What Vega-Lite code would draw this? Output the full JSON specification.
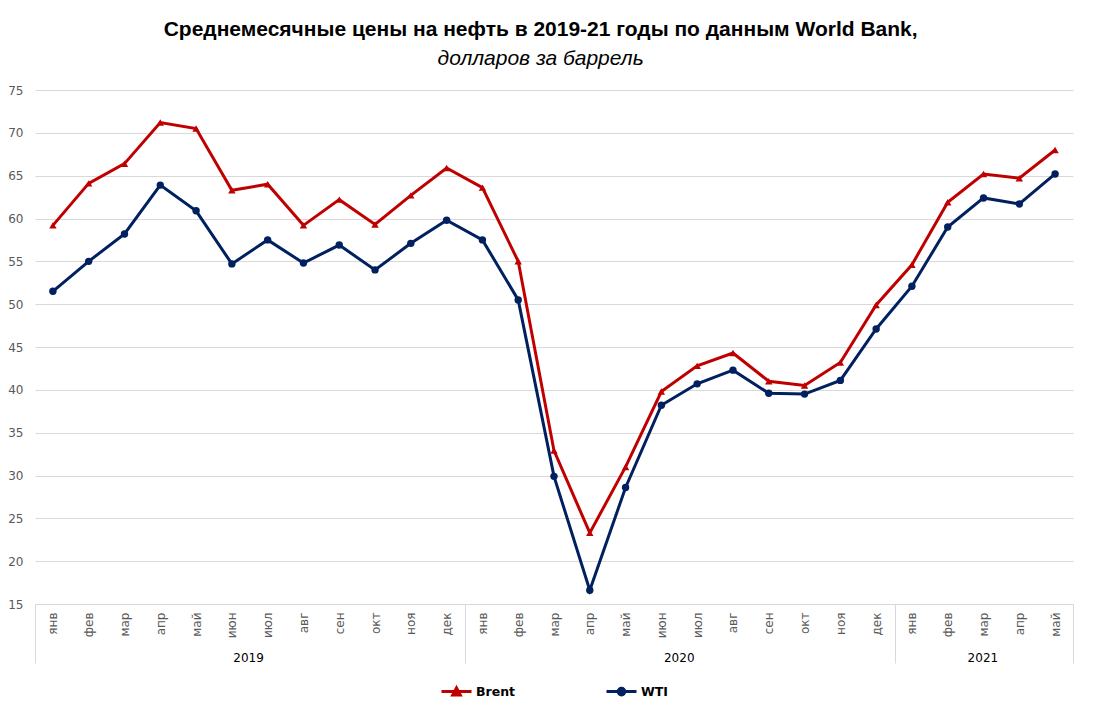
{
  "$schema": "https://vega.github.io/schema/vega-lite/v6.json",
  "width": 1038,
  "height": 514,
  "padding": {"left": 7, "top": 19, "right": 21, "bottom": 5},
  "background": "white",
  "title": {
    "text": "Среднемесячные цены на нефть в 2019-21 годы по данным World Bank,",
    "subtitle": "долларов за баррель",
    "font": "Liberation Sans",
    "fontSize": 21,
    "fontWeight": "bold",
    "color": "black",
    "subtitleFont": "Liberation Sans",
    "subtitleFontSize": 21,
    "subtitleFontStyle": "italic",
    "subtitleColor": "black",
    "subtitlePadding": 8,
    "anchor": "middle",
    "frame": "bounds",
    "offset": 15
  },
  "config": {
    "view": {"stroke": null},
    "axis": {"labelFont": "DejaVu Sans", "labelColor": "#595959", "labelFontSize": 12},
    "legend": {"labelFont": "DejaVu Sans", "layout": {"bottom": {"anchor": "middle"}}}
  },
  "data": {
    "values": [
      {"m": "2019-01", "series": "Brent", "price": 59.2}, {"m": "2019-01", "series": "WTI", "price": 51.5},
      {"m": "2019-02", "series": "Brent", "price": 64.1}, {"m": "2019-02", "series": "WTI", "price": 55.0},
      {"m": "2019-03", "series": "Brent", "price": 66.4}, {"m": "2019-03", "series": "WTI", "price": 58.2},
      {"m": "2019-04", "series": "Brent", "price": 71.2}, {"m": "2019-04", "series": "WTI", "price": 63.9},
      {"m": "2019-05", "series": "Brent", "price": 70.5}, {"m": "2019-05", "series": "WTI", "price": 60.9},
      {"m": "2019-06", "series": "Brent", "price": 63.3}, {"m": "2019-06", "series": "WTI", "price": 54.7},
      {"m": "2019-07", "series": "Brent", "price": 64.0}, {"m": "2019-07", "series": "WTI", "price": 57.5},
      {"m": "2019-08", "series": "Brent", "price": 59.2}, {"m": "2019-08", "series": "WTI", "price": 54.8},
      {"m": "2019-09", "series": "Brent", "price": 62.2}, {"m": "2019-09", "series": "WTI", "price": 56.9},
      {"m": "2019-10", "series": "Brent", "price": 59.3}, {"m": "2019-10", "series": "WTI", "price": 54.0},
      {"m": "2019-11", "series": "Brent", "price": 62.7}, {"m": "2019-11", "series": "WTI", "price": 57.1},
      {"m": "2019-12", "series": "Brent", "price": 65.9}, {"m": "2019-12", "series": "WTI", "price": 59.8},
      {"m": "2020-01", "series": "Brent", "price": 63.6}, {"m": "2020-01", "series": "WTI", "price": 57.5},
      {"m": "2020-02", "series": "Brent", "price": 55.0}, {"m": "2020-02", "series": "WTI", "price": 50.5},
      {"m": "2020-03", "series": "Brent", "price": 32.9}, {"m": "2020-03", "series": "WTI", "price": 29.9},
      {"m": "2020-04", "series": "Brent", "price": 23.3}, {"m": "2020-04", "series": "WTI", "price": 16.6},
      {"m": "2020-05", "series": "Brent", "price": 31.0}, {"m": "2020-05", "series": "WTI", "price": 28.6},
      {"m": "2020-06", "series": "Brent", "price": 39.8}, {"m": "2020-06", "series": "WTI", "price": 38.2},
      {"m": "2020-07", "series": "Brent", "price": 42.8}, {"m": "2020-07", "series": "WTI", "price": 40.7},
      {"m": "2020-08", "series": "Brent", "price": 44.3}, {"m": "2020-08", "series": "WTI", "price": 42.3},
      {"m": "2020-09", "series": "Brent", "price": 41.0}, {"m": "2020-09", "series": "WTI", "price": 39.6},
      {"m": "2020-10", "series": "Brent", "price": 40.5}, {"m": "2020-10", "series": "WTI", "price": 39.5},
      {"m": "2020-11", "series": "Brent", "price": 43.2}, {"m": "2020-11", "series": "WTI", "price": 41.1},
      {"m": "2020-12", "series": "Brent", "price": 49.9}, {"m": "2020-12", "series": "WTI", "price": 47.1},
      {"m": "2021-01", "series": "Brent", "price": 54.6}, {"m": "2021-01", "series": "WTI", "price": 52.1},
      {"m": "2021-02", "series": "Brent", "price": 61.9}, {"m": "2021-02", "series": "WTI", "price": 59.0},
      {"m": "2021-03", "series": "Brent", "price": 65.2}, {"m": "2021-03", "series": "WTI", "price": 62.4},
      {"m": "2021-04", "series": "Brent", "price": 64.7}, {"m": "2021-04", "series": "WTI", "price": 61.7},
      {"m": "2021-05", "series": "Brent", "price": 68.0}, {"m": "2021-05", "series": "WTI", "price": 65.2}
    ]
  },
  "layer": [
    {
      "layer": [
        {
          "mark": {"type": "line", "strokeWidth": 3},
          "encoding": {
            "x": {
              "field": "m", "type": "ordinal", "timeUnit": "utcyearmonth",
              "axis": {
                "title": null, "orient": "bottom", "labelAngle": -90, "ticks": false,
                "domain": true, "domainColor": "#d9d9d9", "domainWidth": 1, "grid": false,
                "labelPadding": 8,
                "labelExpr": "['янв','фев','мар','апр','май','июн','июл','авг','сен','окт','ноя','дек'][utcmonth(datum.value)]"
              }
            },
            "y": {
              "field": "price", "type": "quantitative",
              "scale": {"domain": [15, 75], "nice": false, "zero": false},
              "axis": {
                "title": null, "values": [15, 20, 25, 30, 35, 40, 45, 50, 55, 60, 65, 70, 75],
                "grid": true, "gridColor": "#d9d9d9", "domain": false, "ticks": false, "labelPadding": 12
              }
            },
            "color": {
              "field": "series", "type": "nominal",
              "scale": {"domain": ["Brent", "WTI"], "range": ["#c00000", "#002060"]},
              "legend": {
                "title": null, "orient": "bottom", "direction": "horizontal",
                "symbolSize": 900, "symbolStrokeWidth": 3, "labelFontSize": 12.5,
                "labelFontWeight": "bold", "labelColor": "black", "columnPadding": 84,
                "labelOffset": 3, "offset": 11,
                "encode": {
                  "symbols": {
                    "update": {
                      "shape": {"signal": "datum.value === 'Brent' ? 'M-1,0L1,0M-0.25,0.22L0,-0.24L0.25,0.22Z' : 'M-1,0L1,0M-0.22,0A0.22,0.22 0 1,0 0.22,0A0.22,0.22 0 1,0 -0.22,0Z'"},
                      "fill": {"signal": "datum.value === 'Brent' ? '#c00000' : '#002060'"},
                      "stroke": {"signal": "datum.value === 'Brent' ? '#c00000' : '#002060'"},
                      "strokeWidth": {"value": 3},
                      "opacity": {"value": 1}
                    }
                  }
                }
              }
            }
          }
        },
        {
          "mark": {"type": "point", "filled": true, "opacity": 1},
          "encoding": {
            "x": {"field": "m", "type": "ordinal", "timeUnit": "utcyearmonth"},
            "y": {"field": "price", "type": "quantitative"},
            "color": {"field": "series", "type": "nominal"},
            "shape": {"condition": {"test": "datum.series === 'Brent'", "value": "triangle-up"}, "value": "circle"},
            "size": {"value": 55}
          }
        }
      ]
    },
    {
      "mark": {"type": "point", "opacity": 0},
      "encoding": {
        "x": {
          "field": "m", "type": "temporal",
          "scale": {"domain": [{"year": 2019, "month": 1, "date": 1, "utc": true}, {"year": 2021, "month": 6, "date": 1, "utc": true}]},
          "axis": {
            "title": null, "orient": "bottom", "domain": false, "grid": false,
            "values": [
              {"year": 2019, "month": 1, "date": 1, "utc": true},
              {"year": 2019, "month": 7, "date": 1, "utc": true},
              {"year": 2020, "month": 1, "date": 1, "utc": true},
              {"year": 2020, "month": 7, "date": 1, "utc": true},
              {"year": 2021, "month": 1, "date": 1, "utc": true},
              {"year": 2021, "month": 3, "date": 16, "utc": true},
              {"year": 2021, "month": 6, "date": 1, "utc": true}
            ],
            "tickSize": 59, "tickColor": "#d9d9d9", "tickWidth": 1,
            "tickOpacity": {"condition": {"test": "utcmonth(datum.value) == 6 || utcdate(datum.value) == 16", "value": 0}, "value": 1},
            "labelExpr": "(utcmonth(datum.value) == 6 || utcdate(datum.value) == 16) ? ('' + utcyear(datum.value)) : ''",
            "labelOverlap": false, "labelFlush": false, "labelPadding": -11, "labelColor": "#000000", "labelFontSize": 12
          }
        }
      }
    }
  ],
  "resolve": {"scale": {"x": "independent"}}
}
